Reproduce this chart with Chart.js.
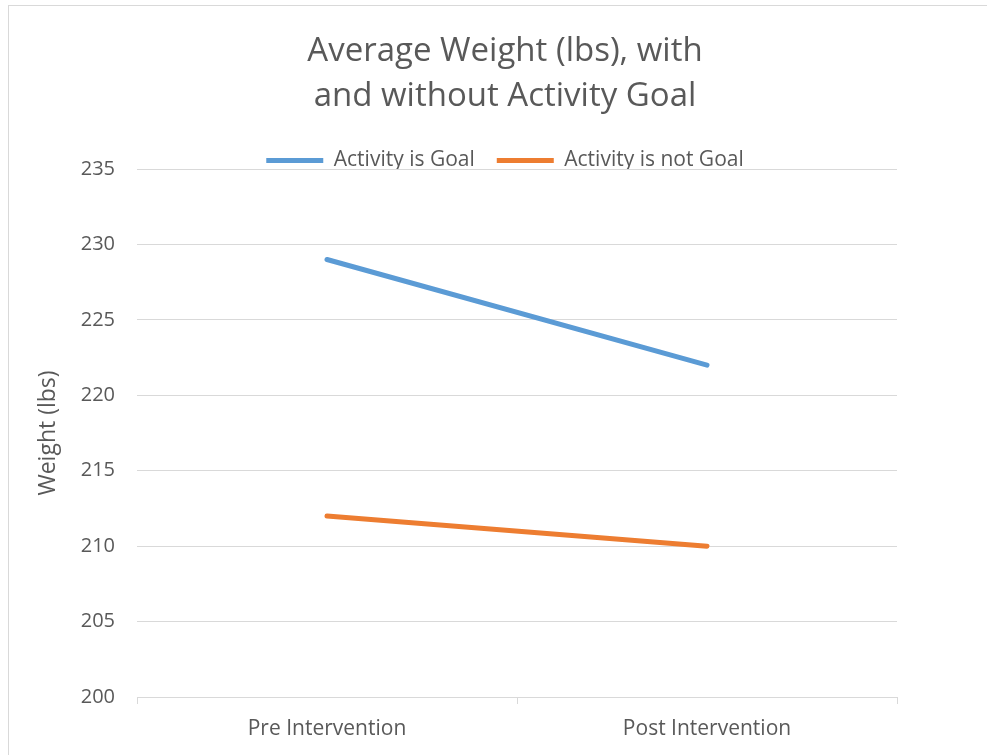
<!DOCTYPE html>
<html><head><meta charset="utf-8">
<script src="https://cdn.jsdelivr.net/npm/chart.js@4/dist/chart.umd.min.js"></script>
<style>
html,body{margin:0;padding:0;background:#fff;overflow:hidden}
#frame{position:absolute;left:8px;top:5px;width:1100px;height:900px;border:1px solid #d9d9d9;box-sizing:border-box}
#c{position:absolute;left:0;top:0}
</style></head><body>
<div id="frame"></div>
<canvas id="c" width="987" height="755"></canvas>
<script>
const categories = ['Pre Intervention', 'Post Intervention'];
const seriesNames = ['Activity is Goal', 'Activity is not Goal'];
const activityIsGoal = [229, 222];
const activityIsNotGoal = [212, 210];
const yMin = 200, yMax = 235, yStep = 5;
const titleLines = ['Average Weight (lbs), with', 'and without Activity Goal'];
const yTitle = 'Weight (lbs)';

const FONT = '"Open Sans"';
const TXT = '#595959';
const GRID = '#d9d9d9';

new Chart(document.getElementById('c'), {
  type: 'line',
  data: {
    labels: categories,
    datasets: [
      {label: seriesNames[0], data: activityIsGoal, borderColor: '#5B9BD5', backgroundColor: '#5B9BD5',
       borderWidth: 5, pointRadius: 0, tension: 0, borderCapStyle: 'round', yAxisID: 'y'},
      {label: seriesNames[1], data: activityIsNotGoal, borderColor: '#ED7D31', backgroundColor: '#ED7D31',
       borderWidth: 5, pointRadius: 0, tension: 0, borderCapStyle: 'round', yAxisID: 'y'}
    ]
  },
  options: {
    responsive: false,
    animation: false,
    devicePixelRatio: 1,
    layout: {padding: {left: 23, right: 0, top: 5, bottom: 0}},
    plugins: {
      title: {display: true, text: titleLines, color: TXT,
        font: {family: FONT, size: 33, weight: 'normal', lineHeight: 45 / 33},
        padding: {top: 24, bottom: 9}},
      legend: {display: true, position: 'top', maxHeight: 41,
        labels: {color: TXT, font: {family: FONT, size: 21}, usePointStyle: true, pointStyle: 'line',
          pointStyleWidth: 57, padding: 22}},
      tooltip: {enabled: false}
    },
    scales: {
      x: {
        offset: true,
        grid: {offset: true, drawOnChartArea: false, drawTicks: true, tickLength: 7, color: GRID},
        border: {display: true, color: GRID},
        ticks: {color: TXT, font: {family: FONT, size: 21}, padding: 12, maxRotation: 0},
        afterFit: s => { s.height = 58; }
      },
      y: {
        position: 'left',
        min: yMin, max: yMax,
        ticks: {stepSize: yStep, color: TXT, font: {family: FONT, size: 20}, padding: 22},
        grid: {color: GRID, drawTicks: false},
        border: {display: false},
        title: {display: true, text: yTitle, color: TXT, font: {family: FONT, size: 23}, padding: {top: 12, bottom: 0}},
        afterFit: s => { s.width = 114; }
      },
      yRight: {
        type: 'linear', position: 'right', display: true,
        grid: {drawOnChartArea: false, drawTicks: false},
        border: {display: false},
        ticks: {display: false},
        afterFit: s => { s.width = 90; }
      }
    }
  }
});
</script>
</body></html>
